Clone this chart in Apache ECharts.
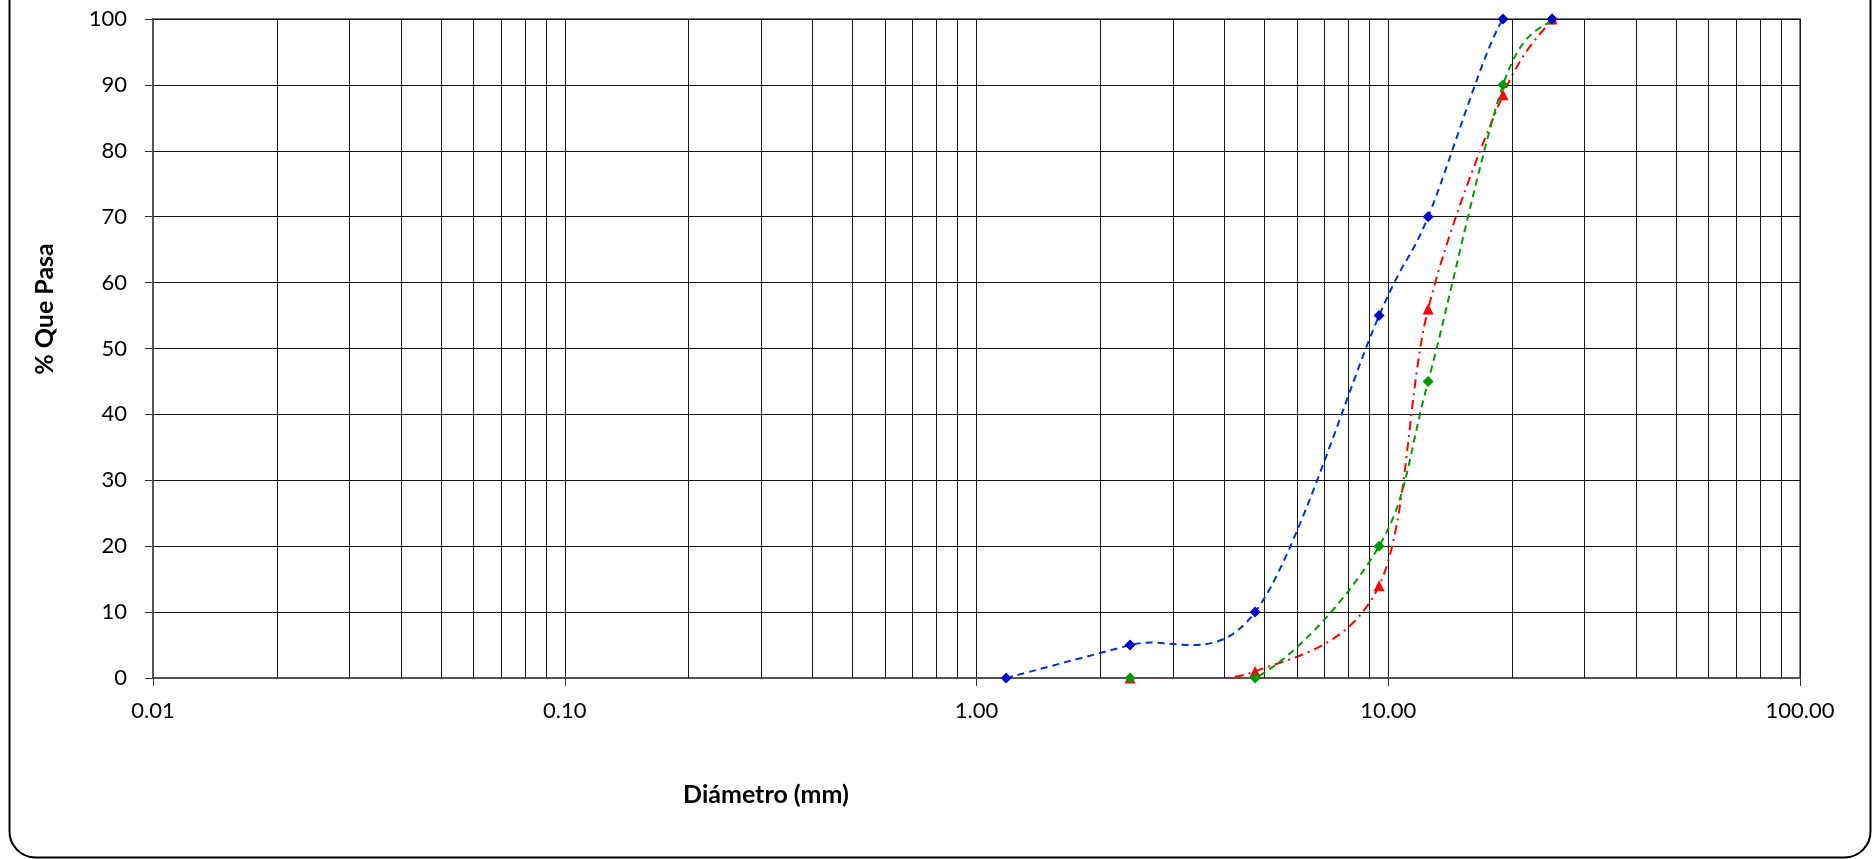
<!DOCTYPE html>
<html><head><meta charset="utf-8">
<script src="https://cdn.jsdelivr.net/npm/echarts@6/dist/echarts.min.js"></script>
<style>html,body{margin:0;padding:0;background:#fff}#c{width:1872px;height:859px}</style>
</head><body><div id="c"></div>
<script>
// Sieve sizes (mm)
const sizes = [1.18, 2.36, 4.75, 9.5, 12.5, 19.0, 25.0];
// % passing
const blueValues  = [0, 5, 10, 55, 70, 100, 100];
const greenValues = [null, 0, 0, 20, 45, 90, 100];
const redValues   = [null, 0, 1, 14, 56, 88.5, 100];
// Tick labels
const xTickLabels = ['0.01', '0.10', '1.00', '10.00', '100.00'];
const minorGridValues = [0.02,0.03,0.04,0.05,0.06,0.07,0.08,0.09,
  0.2,0.3,0.4,0.5,0.6,0.7,0.8,0.9,
  2,3,4,5,6,7,8,9,
  20,30,40,50,60,70,80,90];

const FONT = 'Lato, "Open Sans", sans-serif';
function pairs(vals){ const out=[]; vals.forEach((v,i)=>{ if(v!==null) out.push([sizes[i], v]); }); return out; }

// Excel-like smoothed curve (Catmull-Rom as cubic Bezier) through points mapped by the axes
function smoothPath(api, vals){
  const pts = pairs(vals).map(p => api.coord(p));
  let d = 'M' + pts[0][0] + ' ' + pts[0][1];
  for (let i = 0; i < pts.length - 1; i++){
    const p0 = pts[i-1] || pts[i], p1 = pts[i], p2 = pts[i+1], p3 = pts[i+2] || pts[i+1];
    const c1x = p1[0] + (p2[0]-p0[0])/6, c1y = p1[1] + (p2[1]-p0[1])/6;
    const c2x = p2[0] - (p3[0]-p1[0])/6, c2y = p2[1] - (p3[1]-p1[1])/6;
    d += ' C' + c1x + ' ' + c1y + ' ' + c2x + ' ' + c2y + ' ' + p2[0] + ' ' + p2[1];
  }
  return d;
}
function curveSeries(vals, color, dash, z){
  return {
    type: 'custom', data: pairs(vals), z: z, silent: true, clip: true,
    renderItem: function(params, api){
      if (params.dataIndex !== 0) return null;
      const cs = params.coordSys;
      return {
        type: 'path',
        shape: {pathData: smoothPath(api, vals)},
        style: {fill: null, stroke: color, lineWidth: 2, lineDash: dash},
        clipPath: {type: 'rect', shape: {x: cs.x, y: cs.y, width: cs.width, height: cs.height}}
      };
    }
  };
}
function markerSeries(vals, color, symbol, z){
  return {type: 'line', data: pairs(vals), z: z, silent: true, showSymbol: true,
    symbol: symbol, symbolSize: 11, itemStyle: {color: color},
    lineStyle: {width: 0, opacity: 0}};
}

const chart = echarts.init(document.getElementById('c'), null, {renderer:'canvas'});
chart.setOption({
  animation: false,
  backgroundColor: '#fff',
  grid: {left: 153, right: 72, top: 19, bottom: 181, show: true, borderColor: '#808080', borderWidth: 2, containLabel: false},
  xAxis: {
    type: 'log', logBase: 10, min: 0.01, max: 100, splitNumber: 4,
    axisLine: {show: true, onZero: false, lineStyle: {color: '#555', width: 2}},
    axisTick: {show: true, length: 8, lineStyle: {color: '#333'}},
    axisLabel: {margin: 22, fontSize: 22, color: '#000', fontFamily: FONT,
      formatter: v => xTickLabels[Math.round(Math.log10(v)) + 2]},
    splitLine: {show: true, lineStyle: {color: '#1a1a1a', width: 1}}
  },
  yAxis: {
    type: 'value', min: 0, max: 100, interval: 10,
    axisLine: {show: true, lineStyle: {color: '#555', width: 2}},
    axisTick: {show: true, length: 8, lineStyle: {color: '#333'}},
    axisLabel: {margin: 26, fontSize: 22, color: '#000', fontFamily: FONT},
    splitLine: {show: true, lineStyle: {color: '#111', width: 1}}
  },
  graphic: [
    {type: 'rect', shape: {x: 9.5, y: -100, width: 1861, height: 957.5, r: 26},
     style: {fill: 'none', stroke: '#000', lineWidth: 2}, silent: true, z: 0},
    {type: 'text', x: 766, y: 795, style: {text: 'Diámetro (mm)', font: 'bold 25px ' + FONT, fill: '#000', align: 'center', verticalAlign: 'middle'}},
    {type: 'text', x: 45, y: 309, rotation: Math.PI/2, style: {text: '% Que Pasa', font: 'bold 25px ' + FONT, fill: '#000', align: 'center', verticalAlign: 'middle'}}
  ],
  series: [
    {type: 'line', data: [], z: 1, silent: true,
     markLine: {silent: true, symbol: ['none','none'], animation: false, label: {show: false},
       lineStyle: {type: 'solid', color: '#1a1a1a', width: 1},
       data: minorGridValues.map(v => ({xAxis: v}))}},
    curveSeries(redValues, '#FF0000', [9, 5, 2, 5], 3),
    markerSeries(redValues, '#FF0000', 'triangle', 4),
    curveSeries(greenValues, '#009900', [7, 5], 5),
    markerSeries(greenValues, '#009900', 'diamond', 6),
    curveSeries(blueValues, '#0033CC', [7, 5], 7),
    markerSeries(blueValues, '#0000CC', 'diamond', 8)
  ]
});
</script></body></html>
